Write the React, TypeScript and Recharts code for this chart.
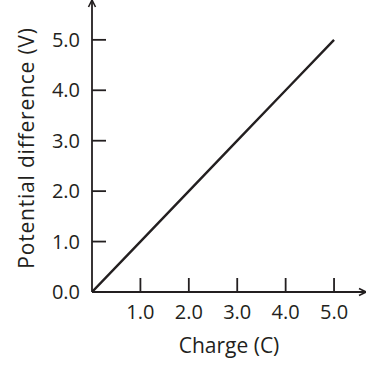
import React from 'react';
import { LineChart, Line, XAxis, YAxis } from 'recharts';

const charge = [0, 1, 2, 3, 4, 5];
const voltage = [0, 1, 2, 3, 4, 5];
const xTicks = [1, 2, 3, 4, 5];
const yTicks = [0, 1, 2, 3, 4, 5];

const data = charge.map((c, i) => ({ charge: c, voltage: voltage[i] }));

const INK = '#231f20';
const FONT = '"Open Sans", sans-serif';
const FS = 20;

const YLabel = (props: any) => {
  const vb = props.viewBox || {};
  const cx = 26;
  const cy = vb.y + vb.height / 2 + 2;
  return (
    <text
      x={cx}
      y={cy}
      transform={`rotate(-90, ${cx}, ${cy})`}
      textAnchor="middle"
      dominantBaseline="central"
      fill={INK}
      fontFamily={FONT}
      fontSize={21}
      letterSpacing={0.8}
    >
      Potential difference (V)
    </text>
  );
};

export default function App() {
  return (
    <div style={{ position: 'absolute', left: 0, top: 0, width: 366, height: 365, background: '#fff' }}>
      <svg width={0} height={0} style={{ position: 'absolute' }}>
        <defs>
          <marker id="arrowHead" viewBox="-1 -5 10 10" refX={7} refY={0} markerWidth={10} markerHeight={10} markerUnits="userSpaceOnUse" orient="auto-start-reverse">
            <path d="M0,-3.5 L7,0 L0,3.5" fill="none" stroke={INK} strokeWidth={1.6} />
          </marker>
        </defs>
      </svg>
      <LineChart width={366} height={365} data={data} margin={{ top: 0, right: 0, bottom: 0, left: 0 }}>
        <XAxis
          dataKey="charge"
          type="number"
          domain={[0, 5.66]}
          ticks={xTicks}
          allowDataOverflow
          height={73}
          tickSize={-14}
          tickMargin={27}
          tickFormatter={(v: number) => v.toFixed(1)}
          tick={{ fill: INK, fontFamily: FONT, fontSize: FS }}
          tickLine={{ stroke: INK, strokeWidth: 1.8 }}
          axisLine={{ stroke: INK, strokeWidth: 1.8, markerEnd: 'url(#arrowHead)' } as any}
          label={{ value: 'Charge (C)', position: 'insideBottom', offset: 12, fill: INK, fontFamily: FONT, fontSize: 21 }}
        />
        <YAxis
          type="number"
          domain={[0, 5.79]}
          ticks={yTicks}
          allowDataOverflow
          width={92}
          tickSize={-14}
          tickMargin={26}
          tickFormatter={(v: number) => v.toFixed(1)}
          tick={{ fill: INK, fontFamily: FONT, fontSize: FS }}
          tickLine={{ stroke: INK, strokeWidth: 1.8 }}
          axisLine={{ stroke: INK, strokeWidth: 1.8, markerStart: 'url(#arrowHead)' } as any}
          label={<YLabel />}
        />
        <Line
          dataKey="voltage"
          stroke={INK}
          strokeWidth={2.4}
          dot={false}
          isAnimationActive={false}
        />
      </LineChart>
    </div>
  );
}
